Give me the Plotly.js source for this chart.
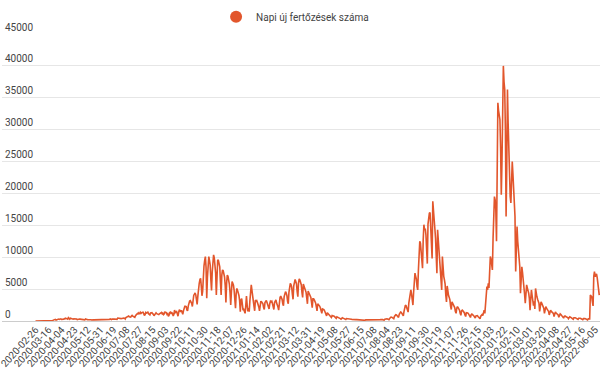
<!DOCTYPE html>
<html>
<head>
<meta charset="utf-8">
<script src="https://cdn.plot.ly/plotly-3.0.1.min.js"></script>
<style>html,body{margin:0;padding:0;background:#fff;}#chart{width:605px;height:385px;}</style>
</head>
<body>
<div id="chart"></div>
<script>
const seriesName = 'Napi új fertőzések száma';

const tickLabels = ['2020-02-26','2020-03-16','2020-04-04','2020-04-23','2020-05-12','2020-05-31','2020-06-19','2020-07-08','2020-07-27','2020-08-15','2020-09-03','2020-09-22','2020-10-11','2020-10-30','2020-11-18','2020-12-07','2020-12-26','2021-01-14','2021-02-02','2021-02-21','2021-03-12','2021-03-31','2021-04-19','2021-05-08','2021-05-27','2021-06-15','2021-07-08','2021-08-04','2021-08-23','2021-09-11','2021-09-30','2021-10-19','2021-11-07','2021-11-26','2021-12-15','2022-01-03','2022-01-22','2022-02-10','2022-03-01','2022-03-20','2022-04-08','2022-04-27','2022-05-16','2022-06-05'];
const tickEvery = 19;

const dailyCases = [
1,0,1,0,0,0,0,
1,0,2,0,1,2,6,
12,4,17,31,22,29,26,
61,31,60,59,66,143,186,
144,263,159,207,297,217,308,
246,305,341,255,238,190,262,
360,333,448,374,318,287,523,
362,289,432,370,317,251,286,
356,361,329,284,301,205,263,
196,298,300,288,323,320,257,
235,233,175,328,251,187,214,
200,220,258,190,197,151,213,
181,173,176,116,158,130,180,
126,150,170,178,206,160,118,
128,194,152,200,222,180,213,
188,217,230,251,320,178,232,
288,244,296,320,320,224,304,
265,460,423,400,356,326,369,
388,435,475,455,426,300,555,
614,603,698,777,663,550,607,
777,889,767,698,611,586,828,
1030,1112,1120,1284,1132,1174,1356,
1182,1295,1356,1379,1150,875,1010,
1348,1254,1415,1378,1145,1057,970,
1261,1330,1296,1145,1058,821,1047,
1200,1271,1145,1060,1091,1001,1131,
1255,1344,1331,1110,1236,1004,1110,
1402,1317,1310,1040,1142,736,907,
1316,1380,1189,1312,1189,785,1029,
1713,1301,1472,1477,1136,755,1333,
1767,1640,1415,1678,1298,1059,1591,
2158,2302,2312,2275,1740,1591,2343,
2958,3130,3186,2960,2778,2274,3617,
4016,4200,4400,4100,3100,2586,3888,
5343,5878,6481,6700,5500,3952,4651,
7733,8651,9489,10100,8400,3560,6868,
9100,10100,9500,8800,6500,4800,7700,
9400,10370,9900,9000,7500,4100,8000,
9600,9500,9000,8500,6100,4100,7200,
8000,7900,7500,6900,5500,2900,5900,
7200,7000,6400,5800,4500,2500,4500,
6200,5900,5600,4800,3700,2000,4300,
5100,4800,4500,4000,3200,1470,3300,
3500,2600,1700,1800,1300,1200,2400,
3900,2500,1500,2000,1470,3200,4500,
5660,4800,3560,3100,2300,1600,3300,
3100,3200,2900,2600,2200,1600,2900,
3100,3000,2800,2700,2100,1800,2900,
3000,3200,2900,2600,2300,1900,2700,
3100,3000,3100,2700,2000,1800,2900,
3200,3300,2800,2600,2200,1700,3100,
3700,3900,3700,3400,2700,2400,3800,
4300,4600,4400,4000,3100,2700,4500,
5600,5900,5700,5300,4200,3400,5500,
6300,6500,6200,5800,4600,3800,6000,
6600,6400,6100,5700,4500,3700,5800,
5400,5200,4900,4500,3600,2700,4700,
4400,4200,4000,3700,2900,2100,3500,
3500,3300,3100,2800,2200,1600,2700,
2600,2500,2300,2000,1600,1200,1900,
1900,1800,1600,1400,1100,800,1300,
1200,1100,1000,900,700,550,850,
850,800,750,650,520,420,650,
620,580,540,480,380,300,480,
500,450,420,380,300,230,380,
360,330,300,280,220,170,270,
260,240,230,210,170,130,220,
220,210,200,190,150,120,190,
190,180,170,160,140,110,170,
170,160,160,150,130,100,160,
160,160,150,150,120,100,160,
170,180,170,160,130,110,190,
220,240,230,210,170,140,260,
320,350,340,300,240,200,400,
560,620,600,540,430,360,720,
900,980,950,860,700,560,1050,
1300,1400,1350,1200,950,800,1500,
2300,2500,2400,2100,1700,1400,2800,
3800,4300,4870,4200,3300,2500,4500,
6970,7500,7000,6600,5400,4870,8000,
11700,12500,12200,11000,9500,8280,12700,
15100,14300,14500,13500,11500,9000,15200,
16700,16900,17000,15000,11000,9800,18760,
16700,16000,14500,13000,9000,7500,14300,
12700,11200,10100,9000,6000,4870,10100,
8000,7000,6450,5800,4000,3000,5500,
4350,4000,3700,3300,2300,1800,3000,
2780,2600,2400,2100,1500,1200,2000,
2250,2100,1900,1700,1200,900,1600,
1700,1600,1500,1300,950,700,1300,
1300,1250,1150,1000,750,550,1000,
1100,1000,950,800,600,450,800,
900,850,700,600,420,350,750,
900,1000,850,1300,1700,1200,3300,
4100,5400,4870,5900,5200,7500,10100,
9700,8500,8000,13000,17000,19500,19000,
17500,12500,20000,34200,33000,32500,31600,
27000,19800,25000,35000,40000,37500,36300,
30000,16400,24000,36300,31000,26900,22000,
19500,18500,22000,25000,23000,20600,18000,
16400,7750,11000,14800,12500,11200,9800,
8500,4350,6500,8500,7600,5900,5000,
4200,2780,4300,5660,5200,4800,4350,
3500,1700,3500,4870,4000,3200,2400,
3100,1900,5100,4000,3800,3400,3000,
2780,1500,2500,3000,2800,2500,2200,
2000,1200,1900,2250,2000,1800,1700,
1500,950,1500,1700,1500,1400,1300,
1200,700,1200,1400,1250,1150,1050,
950,600,1000,1100,1000,900,800,
700,450,750,800,700,650,600,
550,350,600,650,600,550,500,
450,280,500,550,500,450,420,
380,250,420,480,430,400,360,
330,200,380,420,380,350,320,
300,180,340,380,330,4070,3900,
3800,3000,2360,7000,7750,6970,7100,
7400,6800,5900,4800,4070
];

const lineColor = '#e2562c';
const xIndex = dailyCases.map((_, i) => i);
const tickVals = tickLabels.map((_, k) => k * tickEvery);

const traces = [
  {
    x: xIndex, y: dailyCases, type: 'scatter', mode: 'lines',
    line: {color: lineColor, width: 1.6},
    name: seriesName, showlegend: false, hoverinfo: 'skip'
  },
  {
    x: [null], y: [null], type: 'scatter', mode: 'markers',
    marker: {color: lineColor, size: 12, symbol: 'circle'},
    name: seriesName, showlegend: true
  }
];

const fontFam = 'Roboto, Arial, sans-serif';
const layout = {
  width: 605, height: 385,
  margin: {l: 2, r: 5, t: 33.5, b: 64, pad: 0},
  paper_bgcolor: '#ffffff', plot_bgcolor: '#ffffff',
  font: {family: fontFam, size: 10, color: '#444'},
  showlegend: true,
  legend: {
    orientation: 'h', x: 0.358, xanchor: 'left', y: 1.111, yanchor: 'top',
    font: {family: fontFam, size: 10, color: '#444'},
    bgcolor: 'rgba(0,0,0,0)', itemsizing: 'trace'
  },
  xaxis: {
    range: [-48.9, 824.1], tickmode: 'array', tickvals: tickVals, ticktext: tickLabels,
    tickangle: -48, showgrid: false, zeroline: false, showline: false, ticks: '',
    ticklabeloverflow: 'allow', automargin: false,
    tickfont: {family: fontFam, size: 10, color: '#444'}
  },
  yaxis: {
    range: [0, 45000], tick0: 0, dtick: 5000, tickformat: 'd', showgrid: true, gridcolor: '#e6e6e6', gridwidth: 1,
    zeroline: true, zerolinecolor: '#cccccc', zerolinewidth: 1, showline: false, ticks: '',
    ticklabelposition: 'inside top', ticklabeloverflow: 'allow', automargin: false,
    tickfont: {family: fontFam, size: 10, color: '#444'}
  }
};

Plotly.newPlot('chart', traces, layout, {staticPlot: true, displayModeBar: false});
</script>
</body>
</html>
